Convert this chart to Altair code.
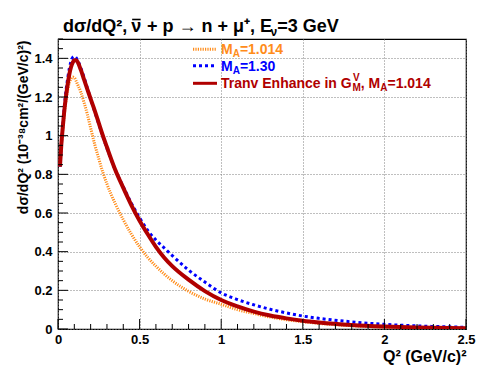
import altair as alt
import pandas as pd

# ---------------- data ----------------
Q = [0.012, 0.02, 0.03, 0.04, 0.05, 0.06, 0.07, 0.08, 0.09, 0.10, 0.11, 0.12,
     0.14, 0.16, 0.18, 0.20, 0.225, 0.25, 0.275, 0.30, 0.35, 0.40, 0.45, 0.50,
     0.55, 0.60, 0.65, 0.70, 0.80, 0.90, 1.0, 1.1, 1.2, 1.3, 1.4, 1.5, 1.6,
     1.8, 2.0, 2.2, 2.4, 2.5]

MA_1014 = [0.84, 0.94, 1.04, 1.12, 1.19, 1.24, 1.275, 1.295, 1.303, 1.30, 1.285, 1.265,
           1.225, 1.17, 1.11, 1.04, 0.955, 0.88, 0.81, 0.75, 0.65, 0.565, 0.49, 0.425,
           0.37, 0.325, 0.285, 0.25, 0.195, 0.155, 0.128, 0.10, 0.08, 0.062, 0.048, 0.038, 0.029,
           0.017, 0.010, 0.006, 0.003, 0.002]

MA_130 = [0.84, 0.95, 1.06, 1.16, 1.24, 1.30, 1.35, 1.385, 1.405, 1.41, 1.405, 1.39,
          1.35, 1.30, 1.245, 1.19, 1.125, 1.06, 0.995, 0.935, 0.825, 0.735, 0.65, 0.575,
          0.51, 0.46, 0.42, 0.38, 0.305, 0.243, 0.187, 0.152, 0.125, 0.102, 0.083, 0.067, 0.055,
          0.037, 0.024, 0.016, 0.011, 0.009]

TRANV = [0.84, 0.95, 1.05, 1.14, 1.21, 1.27, 1.32, 1.355, 1.378, 1.39, 1.39, 1.382,
         1.34, 1.29, 1.24, 1.19, 1.13, 1.065, 1.0, 0.94, 0.825, 0.73, 0.64, 0.56,
         0.49, 0.425, 0.37, 0.325, 0.255, 0.196, 0.15, 0.117, 0.09, 0.07, 0.055, 0.043, 0.034,
         0.021, 0.013, 0.008, 0.005, 0.004]

X_MAJOR = [0, 0.5, 1.0, 1.5, 2.0, 2.5]
X_MINOR = [0.1, 0.2, 0.3, 0.4, 0.6, 0.7, 0.8, 0.9, 1.1, 1.2, 1.3, 1.4,
           1.6, 1.7, 1.8, 1.9, 2.1, 2.2, 2.3, 2.4]
Y_MAJOR = [0, 0.2, 0.4, 0.6, 0.8, 1.0, 1.2, 1.4]
Y_MINOR = [0.05, 0.1, 0.15, 0.25, 0.3, 0.35, 0.45, 0.5, 0.55, 0.65, 0.7, 0.75,
           0.85, 0.9, 0.95, 1.05, 1.1, 1.15, 1.25, 1.3, 1.35, 1.45, 1.5]

TITLE_PARTS = ["dσ/dQ², ", "ν", " + p → n + μ⁺, E", "ν", "=3 GeV"]
LEG1_PARTS = ["M", "A", "=1.014"]
LEG2_PARTS = ["M", "A", "=1.30"]
LEG3_PARTS = ["Tranv Enhance in G", "M", "V", ", M", "A", "=1.014"]
X_TITLE = "Q² (GeV/c)²"
Y_TITLE = "dσ/dQ²  (10⁻³⁸cm²/(GeV/c)²)"

# ---------------- styling ----------------
FONT = "Liberation Sans"
W, H = 408, 290
ORANGE = "#ff8c1a"
BLUE = "#0000ff"
RED = "#b00000"

WID = {' ': 278, '(': 333, ')': 333, '+': 584, ',': 278, '.': 278, '/': 278,
       '=': 584, 'A': 722, 'E': 667, 'G': 778, 'M': 833, 'Q': 778, 'T': 611,
       'V': 667, 'a': 556, 'c': 556, 'd': 611, 'e': 556, 'h': 611, 'i': 278,
       'n': 611, 'p': 611, 'r': 389, 'v': 556, 'σ': 620, 'ν': 600, 'μ': 611,
       '→': 700, '²': 333, '⁺': 333}


def tw(s, size):
    return sum(WID.get(ch, 556 if ch.isdigit() else 600) for ch in s) * size / 1000.0


xs = alt.Scale(domain=[0, 2.5], nice=False, zero=False)
ys = alt.Scale(domain=[0, 1.5], nice=False, zero=False)

xaxis = alt.Axis(values=X_MAJOR, format="~g", title=X_TITLE, grid=True, tickSize=0,
                 domain=False, labelFlush=False, labelPadding=4,
                 titleX=W, titleY=32, titleAlign="right", titleBaseline="alphabetic",
                 titleFontSize=16)
yaxis = alt.Axis(values=Y_MAJOR, format="~g", title=Y_TITLE, grid=True, tickSize=0,
                 domain=False, labelFlush=False, labelPadding=6,
                 titleAngle=270, titleAlign="right", titleBaseline="alphabetic",
                 titleX=-31, titleY=1, titleFontSize=14)


def curve(vals, color, width, dash=None):
    df = pd.DataFrame({"q": Q, "v": vals})
    kw = dict(color=color, strokeWidth=width, interpolate="monotone", clip=True)
    if dash:
        kw["strokeDash"] = dash
    return alt.Chart(df).mark_line(**kw).encode(
        x=alt.X("q:Q", scale=xs, axis=xaxis),
        y=alt.Y("v:Q", scale=ys, axis=yaxis),
    )


def yticks(vals, length):
    return alt.Chart(pd.DataFrame({"v": vals})).mark_rule(color="black", strokeWidth=1).encode(
        y=alt.Y("v:Q", scale=ys, axis=yaxis), x=alt.value(0), x2=alt.value(length))


def xticks(vals, length):
    return alt.Chart(pd.DataFrame({"q": vals})).mark_rule(color="black", strokeWidth=1).encode(
        x=alt.X("q:Q", scale=xs, axis=xaxis), y=alt.value(H), y2=alt.value(H - length))


def txt(s, x, y, size, color, baseline="alphabetic"):
    return alt.Chart(pd.DataFrame({"t": [s]})).mark_text(
        align="left", baseline=baseline, font=FONT, fontSize=size, fontWeight="bold",
        color=color).encode(text="t:N", x=alt.value(x), y=alt.value(y))


def seg(x1, x2, y, color, width, dash=None):
    kw = dict(color=color, strokeWidth=width)
    if dash:
        kw["strokeDash"] = dash
    return alt.Chart(pd.DataFrame({"t": [0]})).mark_rule(**kw).encode(
        x=alt.value(x1), x2=alt.value(x2), y=alt.value(y))


layers = []
# curves
layers.append(curve(MA_1014, ORANGE, 3, [1.2, 1.2]))
layers.append(curve(MA_130, BLUE, 3, [3, 3]))
layers.append(curve(TRANV, RED, 4))
# inward ticks
layers += [yticks(Y_MAJOR, 10), yticks(Y_MINOR, 5), xticks(X_MAJOR, 10), xticks(X_MINOR, 5)]

# title (leading spaces collapse in SVG text, so they are added as offsets)
TS, TSS = 18, 12
x = 5
tyb = -7
layers.append(txt(TITLE_PARTS[0], x, tyb, TS, "black"))
x += tw(TITLE_PARTS[0], TS)
layers.append(txt(TITLE_PARTS[1], x, tyb, TS, "black"))
layers.append(seg(x + 1, x + 9.5, tyb - 12.5, "black", 1.6))  # bar over nu
x += tw(TITLE_PARTS[1], TS)
layers.append(txt(TITLE_PARTS[2], x + tw(" ", TS), tyb, TS, "black"))
x += tw(TITLE_PARTS[2], TS) + 4
layers.append(txt(TITLE_PARTS[3], x, tyb + 3.5, TSS, "black"))
x += tw(TITLE_PARTS[3], TSS) * 0.85 + 0.5
layers.append(txt(TITLE_PARTS[4], x, tyb, TS, "black"))

# legend
LS, LSS = 14, 10
lx = 163


def leg_row(parts, y, color):
    out = []
    x = lx
    out.append(txt(parts[0], x, y, LS, color))
    x += tw(parts[0], LS)
    out.append(txt(parts[1], x, y + 3, LSS, color))
    x += tw(parts[1], LSS)
    out.append(txt(parts[2], x, y, LS, color))
    return out


r1, r2, r3 = 10.3, 26.7, 44.3
layers.append(seg(135, 159, r1, ORANGE, 3, [1.2, 1.2]))
layers.append(seg(135, 159, r2, BLUE, 3, [3, 3]))
layers.append(seg(135, 159, r3, RED, 3))
layers += leg_row(LEG1_PARTS, r1 + 5, ORANGE)
layers += leg_row(LEG2_PARTS, r2 + 5, BLUE)

x = lx
b3 = r3 + 5
layers.append(txt(LEG3_PARTS[0], x, b3, LS, RED))
x += tw(LEG3_PARTS[0], LS)
layers.append(txt(LEG3_PARTS[1], x, b3 + 3, LSS, RED))
layers.append(txt(LEG3_PARTS[2], x + 0.5, b3 - 7, LSS, RED))
x += tw(LEG3_PARTS[1], LSS)
layers.append(txt(LEG3_PARTS[3], x, b3, LS, RED))
x += tw(LEG3_PARTS[3], LS)
layers.append(txt(LEG3_PARTS[4], x, b3 + 3, LSS, RED))
x += tw(LEG3_PARTS[4], LSS)
layers.append(txt(LEG3_PARTS[5], x, b3, LS, RED))

chart = alt.layer(*layers).properties(
    width=W, height=H, autosize=alt.AutoSizeParams(type="none"),
    padding={"left": 50, "top": 31, "right": 11, "bottom": 51},
    background="white",
).configure_view(stroke="black", strokeWidth=1.2).configure_axis(
    labelFont=FONT, labelFontWeight="bold", labelFontSize=13, labelColor="black",
    titleFont=FONT, titleFontWeight="bold", titleColor="black",
    gridColor="#7f7f7f", gridDash=[1, 2], gridWidth=1, gridOpacity=1,
)

chart.save("out.html", embed_options={"renderer": "svg", "actions": False})
